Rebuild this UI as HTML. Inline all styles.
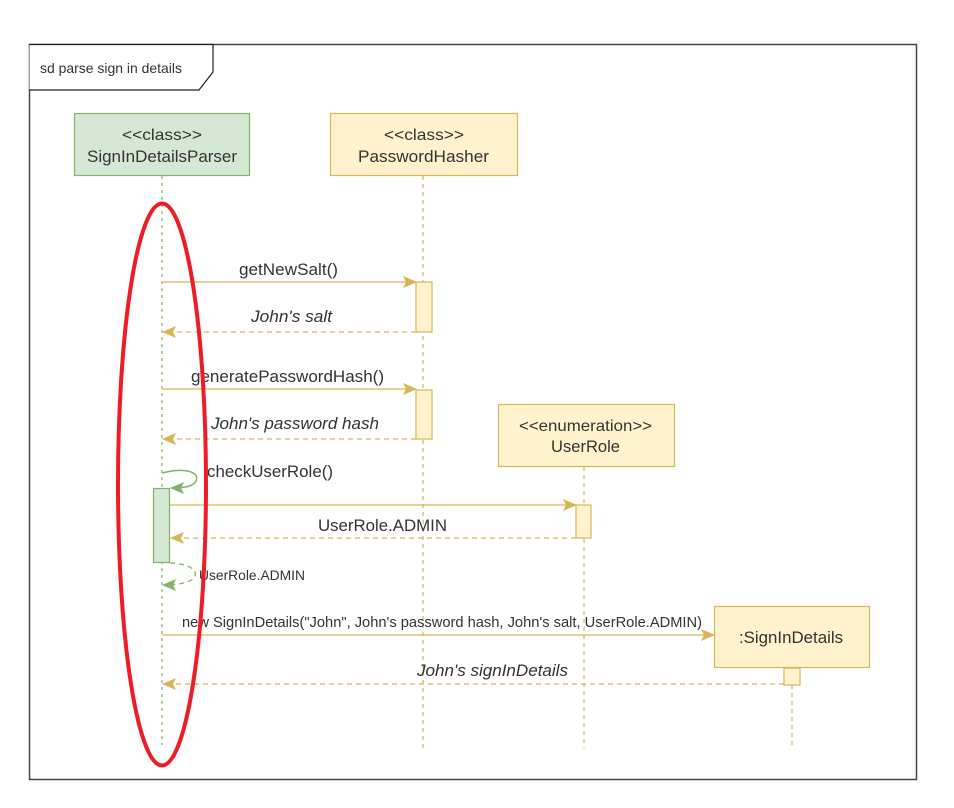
<!DOCTYPE html>
<html><head><meta charset="utf-8"><style>
html,body{margin:0;padding:0;background:#fff;}
svg{display:block;}
text{font-family:"Liberation Sans",Arial,sans-serif;fill:#333;}
</style></head><body>
<svg width="954" height="808" viewBox="0 0 954 808" xmlns="http://www.w3.org/2000/svg">
<defs>
<marker id="ay" markerWidth="14" markerHeight="12" refX="13" refY="6" orient="auto" markerUnits="userSpaceOnUse"><path d="M0,0 L14,6 L0,12 L3,6 Z" fill="#d6b656"/></marker>
<marker id="ag" markerWidth="14" markerHeight="12" refX="13" refY="6" orient="auto" markerUnits="userSpaceOnUse"><path d="M0,0 L14,6 L0,12 L3,6 Z" fill="#82b366"/></marker>
</defs>
<rect x="29.5" y="44.5" width="887" height="735" fill="#fff" stroke="#444" stroke-width="1.5"/>
<path d="M29.5,44.5 L213,44.5 L213,72 L199,90 L29.5,90" fill="#fff" stroke="#222" stroke-width="1.2"/>
<text x="40" y="73" font-size="14" textLength="142" lengthAdjust="spacingAndGlyphs">sd parse sign in details</text>

<line x1="162" y1="176" x2="162" y2="745" stroke="#82b366" stroke-width="1.2" stroke-dasharray="3,4"/>
<line x1="423" y1="176" x2="423" y2="748" stroke="#d6b656" stroke-width="1.2" stroke-dasharray="4,4"/>
<line x1="584" y1="467" x2="584" y2="748" stroke="#d6b656" stroke-width="1.2" stroke-dasharray="4,4"/>
<line x1="792" y1="685" x2="792" y2="746" stroke="#d6b656" stroke-width="1.2" stroke-dasharray="4,4"/>

<rect x="74.5" y="113.5" width="175" height="62" fill="#d5e8d4" stroke="#82b366" stroke-width="1.2"/>
<text x="122" y="140" font-size="16" textLength="80" lengthAdjust="spacingAndGlyphs">&lt;&lt;class&gt;&gt;</text>
<text x="87" y="162" font-size="17" textLength="150" lengthAdjust="spacingAndGlyphs">SignInDetailsParser</text>
<rect x="330.5" y="113.5" width="187" height="62" fill="#fff2cc" stroke="#d6b656" stroke-width="1.2"/>
<text x="384" y="140" font-size="16" textLength="80" lengthAdjust="spacingAndGlyphs">&lt;&lt;class&gt;&gt;</text>
<text x="358" y="162" font-size="17" textLength="131" lengthAdjust="spacingAndGlyphs">PasswordHasher</text>
<rect x="498.5" y="404.5" width="176" height="62" fill="#fff2cc" stroke="#d6b656" stroke-width="1.2"/>
<text x="519" y="431" font-size="16" textLength="133" lengthAdjust="spacingAndGlyphs">&lt;&lt;enumeration&gt;&gt;</text>
<text x="551" y="452" font-size="17" textLength="69" lengthAdjust="spacingAndGlyphs">UserRole</text>
<rect x="714.5" y="606.5" width="155" height="61" fill="#fff2cc" stroke="#d6b656" stroke-width="1.2"/>
<text x="739" y="643" font-size="17" textLength="104" lengthAdjust="spacingAndGlyphs">:SignInDetails</text>

<rect x="416" y="282" width="16" height="50" fill="#fff2cc" stroke="#d6b656" stroke-width="1.2"/>
<rect x="416" y="390" width="16" height="49" fill="#fff2cc" stroke="#d6b656" stroke-width="1.2"/>
<rect x="576" y="505" width="15" height="33" fill="#fff2cc" stroke="#d6b656" stroke-width="1.2"/>
<rect x="784" y="668" width="16" height="17" fill="#fff2cc" stroke="#d6b656" stroke-width="1.2"/>
<rect x="153.5" y="488.5" width="16" height="74" fill="#d5e8d4" stroke="#82b366" stroke-width="1.2"/>

<line x1="162" y1="282" x2="416" y2="282" stroke="#d6b656" stroke-width="1.3" marker-end="url(#ay)"/>
<text x="239" y="275" font-size="17" textLength="99" lengthAdjust="spacingAndGlyphs">getNewSalt()</text>
<line x1="416" y1="332" x2="163" y2="332" stroke="#d6b656" stroke-width="1.3" stroke-dasharray="5,4" marker-end="url(#ay)"/>
<text x="251" y="322" font-size="17" font-style="italic" textLength="81" lengthAdjust="spacingAndGlyphs">John's salt</text>

<line x1="162" y1="389" x2="416" y2="389" stroke="#d6b656" stroke-width="1.3" marker-end="url(#ay)"/>
<text x="191" y="382" font-size="17" textLength="193" lengthAdjust="spacingAndGlyphs">generatePasswordHash()</text>
<line x1="416" y1="439" x2="163" y2="439" stroke="#d6b656" stroke-width="1.3" stroke-dasharray="5,4" marker-end="url(#ay)"/>
<text x="211" y="429" font-size="17" font-style="italic" textLength="168" lengthAdjust="spacingAndGlyphs">John's password hash</text>

<path d="M162,473 C185,467 200,472 196,481 C193,487 183,488 171,488" fill="none" stroke="#82b366" stroke-width="1.5" marker-end="url(#ag)"/>
<text x="207" y="477" font-size="17" textLength="126" lengthAdjust="spacingAndGlyphs">checkUserRole()</text>

<line x1="170" y1="505" x2="576" y2="505" stroke="#d6b656" stroke-width="1.3" marker-end="url(#ay)"/>
<line x1="576" y1="538" x2="171" y2="538" stroke="#d6b656" stroke-width="1.3" stroke-dasharray="5,4" marker-end="url(#ay)"/>
<text x="318" y="531" font-size="17" textLength="129" lengthAdjust="spacingAndGlyphs">UserRole.ADMIN</text>

<path d="M170,563 C190,564 197,570 195,576 C193,582 180,585 163,585" fill="none" stroke="#82b366" stroke-width="1.3" stroke-dasharray="5,4" marker-end="url(#ag)"/>
<text x="199" y="580" font-size="14" textLength="106" lengthAdjust="spacingAndGlyphs">UserRole.ADMIN</text>

<line x1="162" y1="635" x2="714" y2="635" stroke="#d6b656" stroke-width="1.3" marker-end="url(#ay)"/>
<text x="182" y="627" font-size="14.5" textLength="520" lengthAdjust="spacingAndGlyphs">new SignInDetails("John", John's password hash, John's salt, UserRole.ADMIN)</text>
<line x1="784" y1="684" x2="163" y2="684" stroke="#d6b656" stroke-width="1.3" stroke-dasharray="5,4" marker-end="url(#ay)"/>
<text x="417" y="676" font-size="17" font-style="italic" textLength="151" lengthAdjust="spacingAndGlyphs">John's signInDetails</text>

<ellipse cx="162" cy="484.5" rx="44" ry="281" fill="none" stroke="#ee1c25" stroke-width="4"/>
</svg>
</body></html>
